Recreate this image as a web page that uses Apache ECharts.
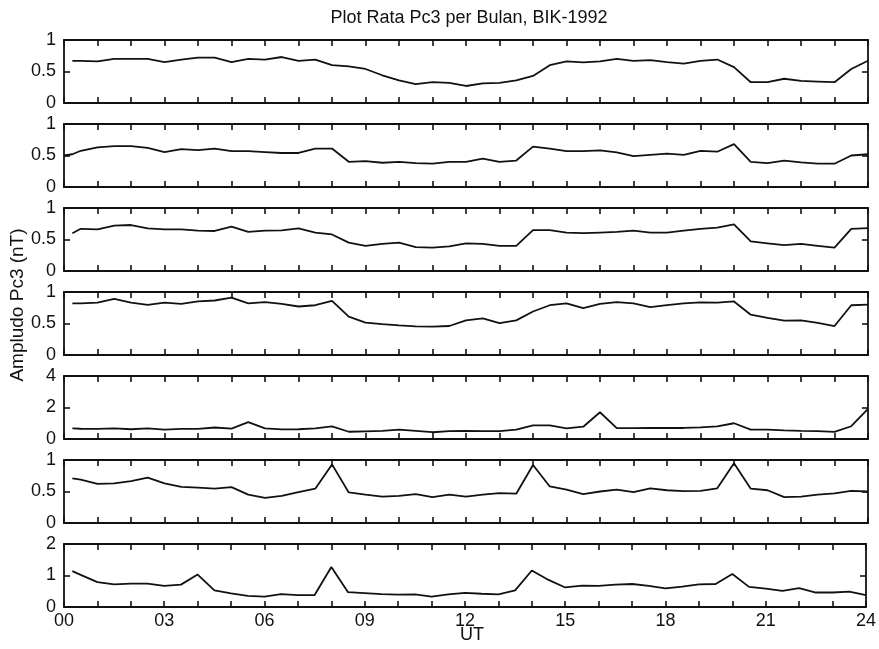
<!DOCTYPE html>
<html>
<head>
<meta charset="utf-8">
<script src="https://cdn.jsdelivr.net/npm/echarts@6/dist/echarts.min.js"></script>
<style>
  html, body { margin: 0; padding: 0; background: #ffffff; }
  #chart { width: 879px; height: 649px; }
</style>
</head>
<body>
<div id="chart"></div>
<script>
// Universal time (hours) of each averaged sample
const hours = [0, 0.25, 0.5, 1, 1.5, 2, 2.5, 3, 3.5, 4, 4.5, 5, 5.5, 6, 6.5, 7, 7.5, 8, 8.5, 9, 9.5,
  10, 10.5, 11, 11.5, 12, 12.5, 13, 13.5, 14, 14.5, 15, 15.5, 16, 16.5, 17, 17.5, 18, 18.5,
  19, 19.5, 20, 20.5, 21, 21.5, 22, 22.5, 23, 23.5, 24];

// Mean Pc3 amplitude (nT), one array per panel, top to bottom
const pc3Panel1 = [null, 0.67, 0.67, 0.66, 0.70, 0.70, 0.70, 0.65, 0.69, 0.72, 0.72, 0.65, 0.70, 0.69, 0.73, 0.67, 0.69, 0.60, 0.58, 0.54, 0.44,
  0.36, 0.30, 0.33, 0.32, 0.27, 0.31, 0.32, 0.36, 0.43, 0.60, 0.66, 0.645, 0.66, 0.70, 0.67, 0.68, 0.65, 0.625,
  0.67, 0.69, 0.57, 0.33, 0.33, 0.385, 0.35, 0.34, 0.33, 0.54, 0.67];
const pc3Panel2 = [0.50, 0.52, 0.575, 0.63, 0.65, 0.65, 0.62, 0.555, 0.60, 0.585, 0.61, 0.57, 0.57, 0.555, 0.54, 0.54, 0.61, 0.61, 0.40, 0.41, 0.385,
  0.40, 0.38, 0.37, 0.40, 0.40, 0.45, 0.40, 0.42, 0.64, 0.61, 0.57, 0.57, 0.58, 0.55, 0.49, 0.51, 0.53, 0.51,
  0.575, 0.56, 0.68, 0.40, 0.38, 0.42, 0.39, 0.37, 0.37, 0.50, 0.52];
const pc3Panel3 = [null, 0.60, 0.67, 0.66, 0.72, 0.73, 0.675, 0.66, 0.66, 0.64, 0.635, 0.705, 0.62, 0.64, 0.645, 0.675, 0.61, 0.58, 0.45, 0.40, 0.43,
  0.45, 0.38, 0.37, 0.39, 0.44, 0.43, 0.40, 0.40, 0.65, 0.65, 0.61, 0.60, 0.61, 0.62, 0.64, 0.61, 0.61, 0.64,
  0.67, 0.69, 0.74, 0.47, 0.44, 0.41, 0.43, 0.40, 0.37, 0.67, 0.68];
const pc3Panel4 = [null, 0.82, 0.82, 0.83, 0.89, 0.83, 0.795, 0.83, 0.81, 0.85, 0.865, 0.91, 0.82, 0.84, 0.81, 0.77, 0.79, 0.86, 0.61, 0.515, 0.49,
  0.47, 0.455, 0.45, 0.46, 0.55, 0.58, 0.505, 0.55, 0.69, 0.79, 0.82, 0.745, 0.81, 0.84, 0.82, 0.76, 0.79, 0.82,
  0.835, 0.83, 0.85, 0.64, 0.59, 0.545, 0.55, 0.51, 0.46, 0.79, 0.80];
const pc3Panel5 = [null, 0.67, 0.65, 0.64, 0.67, 0.62, 0.68, 0.60, 0.64, 0.64, 0.73, 0.66, 1.07, 0.68, 0.61, 0.62, 0.67, 0.80, 0.46, 0.49, 0.52,
  0.59, 0.52, 0.43, 0.50, 0.51, 0.50, 0.50, 0.59, 0.87, 0.87, 0.67, 0.78, 1.70, 0.69, 0.69, 0.70, 0.70, 0.70,
  0.74, 0.80, 1.00, 0.59, 0.59, 0.55, 0.52, 0.50, 0.45, 0.81, 1.92];
const pc3Panel6 = [null, 0.71, 0.69, 0.62, 0.63, 0.665, 0.72, 0.63, 0.575, 0.56, 0.545, 0.57, 0.45, 0.40, 0.43, 0.49, 0.545, 0.93, 0.485, 0.45, 0.42,
  0.43, 0.46, 0.41, 0.45, 0.42, 0.45, 0.475, 0.465, 0.92, 0.58, 0.53, 0.46, 0.50, 0.53, 0.49, 0.55, 0.52, 0.505,
  0.51, 0.55, 0.95, 0.545, 0.52, 0.41, 0.42, 0.45, 0.47, 0.51, 0.50];
const pc3Panel7 = [null, 1.14, 1.02, 0.79, 0.72, 0.74, 0.74, 0.67, 0.71, 1.03, 0.53, 0.43, 0.35, 0.33, 0.41, 0.38, 0.38, 1.27, 0.47, 0.44, 0.41,
  0.39, 0.40, 0.33, 0.40, 0.45, 0.42, 0.40, 0.53, 1.16, 0.86, 0.62, 0.68, 0.67, 0.71, 0.73, 0.67, 0.59, 0.65,
  0.72, 0.73, 1.05, 0.64, 0.58, 0.51, 0.60, 0.46, 0.46, 0.49, 0.38];

const panelValues = [pc3Panel1, pc3Panel2, pc3Panel3, pc3Panel4, pc3Panel5, pc3Panel6, pc3Panel7];
const panelYMax = [1, 1, 1, 1, 4, 1, 2];
const xTickLabels = ['00', '03', '06', '09', '12', '15', '18', '21', '24'];

const titleText = 'Plot Rata Pc3 per Bulan, BIK-1992';
const yAxisTitle = 'Ampludo Pc3 (nT)';
const xAxisTitle = 'UT';

// Layout
const FONT = '"Liberation Sans", Arial, Helvetica, sans-serif';
const INK = '#111111';
const plotLeft = 64, plotWidth = 804;
const panelTops = [40, 124, 208, 292, 376, 460, 544];
const panelHeight = 63;

// fresh style objects for every axis
const frameLine = () => ({ show: true, onZero: false, lineStyle: { color: INK, width: 1.8 } });
const tickIn = () => ({ show: true, inside: true, length: 6, lineStyle: { color: INK, width: 1.6 } });
const labelText = () => ({ color: INK, fontSize: 18, fontFamily: FONT });

const grids = [], xAxes = [], yAxes = [], series = [];
const last = panelValues.length - 1;

panelValues.forEach((vals, i) => {
  grids.push({ left: plotLeft, width: plotWidth, top: panelTops[i], height: panelHeight, containLabel: false });

  // bottom axis (labels on the lowest panel only)
  xAxes.push({
    type: 'value', gridIndex: i, position: 'bottom', min: 0, max: 24, interval: 1,
    axisLine: frameLine(), axisTick: tickIn(), splitLine: { show: false },
    axisLabel: Object.assign(labelText(), {
      show: i === last, margin: 5,
      formatter: v => (v % 3 === 0 ? xTickLabels[v / 3] : '')
    })
  });
  // top axis (ticks only)
  xAxes.push({
    type: 'value', gridIndex: i, position: 'top', min: 0, max: 24, interval: 1,
    axisLine: frameLine(), axisTick: tickIn(), splitLine: { show: false },
    axisLabel: { show: false }
  });

  const m = panelYMax[i];
  yAxes.push({
    type: 'value', gridIndex: i, position: 'left', min: 0, max: m, interval: m / 2,
    axisLine: frameLine(), axisTick: tickIn(), splitLine: { show: false },
    axisLabel: Object.assign(labelText(), { margin: 8, formatter: v => String(v) })
  });
  yAxes.push({
    type: 'value', gridIndex: i, position: 'right', min: 0, max: m, interval: m / 2,
    axisLine: frameLine(), axisTick: tickIn(), splitLine: { show: false },
    axisLabel: { show: false }
  });

  series.push({
    type: 'line',
    xAxisIndex: 2 * i,
    yAxisIndex: 2 * i,
    showSymbol: false,
    smooth: false,
    lineStyle: { color: INK, width: 1.8 },
    data: hours.map((h, k) => [h, vals[k]]),
    z: 3
  });
});

const chart = echarts.init(document.getElementById('chart'), null, { renderer: 'canvas' });
chart.setOption({
  animation: false,
  backgroundColor: '#ffffff',
  grid: grids,
  xAxis: xAxes,
  yAxis: yAxes,
  series: series,
  graphic: [
    { type: 'text', x: 469, y: 18,
      style: { text: titleText, fill: INK, font: '18px ' + FONT, textAlign: 'center', textVerticalAlign: 'middle' } },
    { type: 'text', x: 18, y: 305, rotation: Math.PI / 2,
      style: { text: yAxisTitle, fill: INK, font: '19px ' + FONT, textAlign: 'center', textVerticalAlign: 'middle' } },
    { type: 'text', x: 472, y: 635,
      style: { text: xAxisTitle, fill: INK, font: '18px ' + FONT, textAlign: 'center', textVerticalAlign: 'middle' } }
  ]
});
</script>
</body>
</html>
